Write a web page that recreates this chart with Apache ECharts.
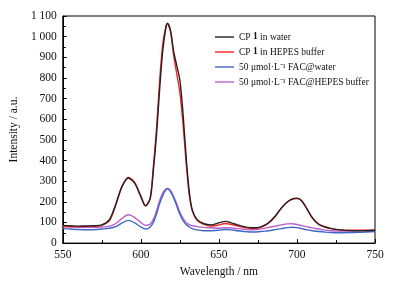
<!DOCTYPE html>
<html>
<head>
<meta charset="utf-8">
<script src="https://cdn.jsdelivr.net/npm/echarts@6/dist/echarts.min.js"></script>
<style>
  html, body { margin: 0; padding: 0; background: #fff; }
  #chart { width: 397px; height: 283px; }
</style>
</head>
<body>
<div id="chart"></div>
<script>
var wavelength = [550,555,560,565,570,575,580,584,588,592,596,600,603,606,608,610,612,614,616,617,
    619,621,623,625,627,629,631,633,636,640,645,650,654,658,662,666,670,674,678,682,686,690,694,697,
    700,703,706,710,714,718,722,726,730,735,740,745,750];

var cpWater = [86,84,82,83,84,88,115,190,275,315,290,225,180,215,350,520,740,930,1040,1065,
    1030,930,860,790,630,420,250,160,115,95,88,98,105,98,88,80,75,74,82,100,130,170,200,214,
    218,205,170,120,90,78,70,65,62,60,60,60,62];

var cpHepes = [80,80,80,81,82,86,110,185,275,318,295,228,182,220,370,550,780,960,1050,1062,
    1025,910,820,730,580,390,235,155,110,92,82,88,95,90,82,76,72,72,80,98,128,168,200,212,
    216,205,172,122,92,78,70,65,62,62,62,62,62];

var facWater = [70,68,66,65,65,68,72,80,98,110,98,78,68,78,100,140,190,230,258,263,
    250,220,180,140,110,90,78,70,64,60,60,62,66,64,60,56,54,54,57,60,65,70,75,77,
    75,70,65,60,56,53,51,50,50,51,52,54,56];

var facHepes = [80,78,77,76,76,78,82,95,120,137,125,100,86,92,115,155,205,242,262,265,
    255,225,190,150,120,100,90,84,80,76,74,72,74,73,70,67,65,66,70,76,82,88,93,94,
    90,85,80,74,68,63,60,58,58,59,60,61,60];

var seriesNames = ['CP 1 in water', 'CP 1 in HEPES buffer', '50 μmol·L⁻¹ FAC@water', '50 μmol·L⁻¹ FAC@HEPES buffer'];
var seriesData = [cpWater, cpHepes, facWater, facHepes];
var colors = ['#222222', '#ff2020', '#3f66c8', '#b860cc'];

var font = 'Liberation Serif';

function pairs(ys) {
    return wavelength.map(function(x, i) { return [x, ys[i]]; });
}

var series = seriesNames.map(function(name, i) {
    return {
        name: name,
        type: 'line',
        data: pairs(seriesData[i]),
        smooth: 0.3,
        showSymbol: false,
        lineStyle: { color: colors[i], width: 1.4 },
        itemStyle: { color: colors[i] },
        z: 4 - i
    };
});

var chart = echarts.init(document.getElementById('chart'));
chart.setOption({
    animation: false,
    grid: {
        left: 61, right: 22, top: 16, bottom: 36,
        show: true, borderColor: '#000', borderWidth: 1
    },
    legend: {
        orient: 'vertical',
        left: 210,
        top: 27,
        itemWidth: 19,
        itemHeight: 10,
        itemGap: 5,
        icon: 'path://M0,4.3 L19,4.3 L19,5.7 L0,5.7 Z',
        data: seriesNames,
        formatter: function(name) {
            if (name.indexOf('CP 1') === 0) {
                return '{a|CP }{b|1}{a|' + name.slice(4) + '}';
            }
            return '{a|' + name + '}';
        },
        textStyle: {
            fontFamily: font,
            fontSize: 9.5,
            color: '#111',
            rich: {
                a: { fontFamily: font, fontSize: 9.5, color: '#111' },
                b: { fontFamily: font, fontSize: 9.5, fontWeight: 'bold', color: '#111' }
            }
        }
    },
    xAxis: {
        type: 'value',
        min: 550, max: 750, interval: 50,
        name: 'Wavelength / nm',
        nameLocation: 'middle',
        nameGap: 22,
        nameTextStyle: { fontFamily: font, fontSize: 11.5, color: '#111' },
        axisLine: { lineStyle: { color: '#000', width: 1 } },
        axisTick: { inside: true, length: 4, lineStyle: { color: '#000' } },
        minorTick: { show: true, splitNumber: 2, length: 3, lineStyle: { color: '#000' } },
        splitLine: { show: false },
        axisLabel: { fontFamily: font, fontSize: 11.5, color: '#111', margin: 6 }
    },
    yAxis: {
        type: 'value',
        min: 0, max: 1100, interval: 100,
        name: 'Intensity / a.u.',
        nameLocation: 'middle',
        nameGap: 36,
        nameTextStyle: { fontFamily: font, fontSize: 11.5, color: '#111' },
        axisLine: { show: true, lineStyle: { color: '#000', width: 1 } },
        axisTick: { show: true, inside: true, length: 4, lineStyle: { color: '#000' } },
        minorTick: { show: true, splitNumber: 2, length: 3, lineStyle: { color: '#000' } },
        splitLine: { show: false },
        axisLabel: {
            fontFamily: font, fontSize: 11.5, color: '#111', margin: 6,
            formatter: function(v) {
                return v >= 1000 ? Math.floor(v / 1000) + ' ' + String(v % 1000).padStart(3, '0') : String(v);
            }
        }
    },
    series: series
});
</script>
</body>
</html>
